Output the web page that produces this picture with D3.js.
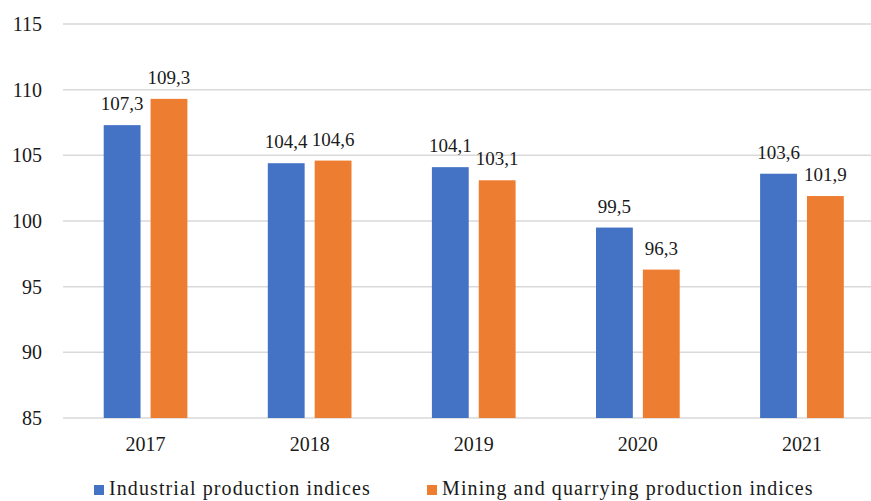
<!DOCTYPE html>
<html lang="en">
<head>
    <meta charset="utf-8">
    <title>Production indices</title>
    <script type="text/javascript" src="https://d3js.org/d3.v7.min.js"></script>
    <style>
        body { margin: 0; background: #fff; }
        .grid line { stroke: #d9d9d9; stroke-width: 1.5; }
        text {
            font-family: "Liberation Serif", "DejaVu Serif", "Times New Roman", serif;
            fill: #1a1a1a;
        }
        .labels { font-size: 19px; }
        .ticks, .years, .legend { font-size: 20px; }
        .legend { letter-spacing: 1.1px; }
    </style>
</head>
<body>
<div id="container"></div>
<script type="text/javascript">
    const years = ["2017", "2018", "2019", "2020", "2021"];
    const industrial = [107.3, 104.4, 104.1, 99.5, 103.6];
    const mining = [109.3, 104.6, 103.1, 96.3, 101.9];
    const seriesNames = ["Industrial production indices", "Mining and quarrying production indices"];
    const seriesColors = ["#4472c4", "#ed7d31"];
    const yTicks = [85, 90, 95, 100, 105, 110, 115];

    const w = 871;
    const h = 501;
    const svg = d3.select("div#container").append("svg")
        .attr("width", w)
        .attr("height", h);

    const x = d3.scaleBand().domain(years).range([63.5, 884]).paddingInner(0.49).paddingOuter(0.245);
    const xs = d3.scaleBand().domain([0, 1]).range([0, x.bandwidth()]).paddingInner(0.214);
    const y = d3.scaleLinear().domain([85, 115]).range([418, 24]);

    // gridlines
    svg.append("g").attr("class", "grid")
        .selectAll("line")
        .data(yTicks)
        .enter()
        .append("line")
        .attr("x1", 63)
        .attr("x2", w)
        .attr("y1", d => y(d))
        .attr("y2", d => y(d));

    // y tick labels
    svg.selectAll("text.ticks")
        .data(yTicks)
        .enter()
        .append("text")
        .attr("class", "ticks")
        .attr("x", 42)
        .attr("y", d => y(d) + 7)
        .attr("text-anchor", "end")
        .text(d => d);

    // bars
    const data = years.map((yr, i) => ({year: yr, values: [industrial[i], mining[i]]}));
    const groups = svg.selectAll("g.year")
        .data(data)
        .enter()
        .append("g")
        .attr("class", "year")
        .attr("transform", d => "translate(" + x(d.year) + ",0)");

    groups.selectAll("rect")
        .data(d => d.values.map((v, k) => ({k: k, v: v})))
        .enter()
        .append("rect")
        .attr("x", d => xs(d.k))
        .attr("width", xs.bandwidth())
        .attr("y", d => y(d.v))
        .attr("height", d => y(85) - y(d.v))
        .attr("fill", d => seriesColors[d.k]);

    groups.selectAll("text")
        .data(d => d.values.map((v, k) => ({k: k, v: v})))
        .enter()
        .append("text")
        .attr("class", "labels")
        .attr("x", d => xs(d.k) + xs.bandwidth() / 2)
        .attr("y", d => y(d.v) - 15)
        .attr("text-anchor", "middle")
        .text(d => d3.format(".1f")(d.v).replace(".", ","));

    // year labels
    svg.selectAll("text.years")
        .data(years)
        .enter()
        .append("text")
        .attr("class", "years")
        .attr("x", d => x(d) + x.bandwidth() / 2)
        .attr("y", 451)
        .attr("text-anchor", "middle")
        .text(d => d);

    // legend
    const legendX = [94, 427];
    const legend = svg.selectAll("g.legend-item")
        .data(seriesNames)
        .enter()
        .append("g")
        .attr("class", "legend-item")
        .attr("transform", (d, i) => "translate(" + legendX[i] + ",0)");
    legend.append("rect")
        .attr("x", 0)
        .attr("y", 485)
        .attr("width", 10)
        .attr("height", 10)
        .attr("fill", (d, i) => seriesColors[i]);
    legend.append("text")
        .attr("class", "legend")
        .attr("x", 15)
        .attr("y", 495)
        .text(d => d);
</script>
</body>
</html>
